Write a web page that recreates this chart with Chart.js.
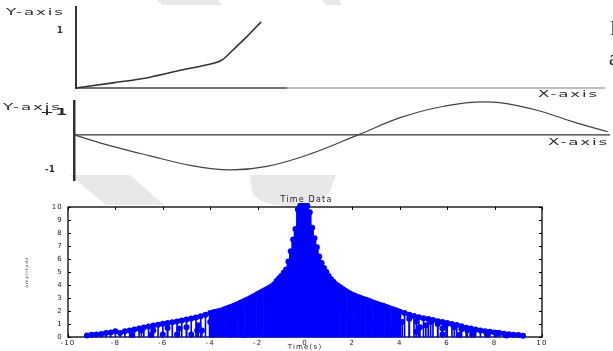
<!DOCTYPE html>
<html>
<head>
<meta charset="utf-8">
<script src="https://cdn.jsdelivr.net/npm/chart.js@4.4.1/dist/chart.umd.min.js"></script>
<style>
html, body { margin: 0; padding: 0; background: #fff; }
body { width: 613px; height: 351px; position: relative; overflow: hidden; font-family: "DejaVu Sans", sans-serif; }
canvas, svg { position: absolute; left: 0; }
.lbl { position: absolute; font-size: 9px; color: #2a2a2a; letter-spacing: 1px; transform-origin: 0 50%; transform: scaleX(1.85); line-height: 10px; white-space: nowrap; }
.doc { position: absolute; font-family: "Liberation Serif", serif; font-size: 20px; line-height: 20px; color: #222; }
</style>
</head>
<body>
<svg width="613" height="351" style="top:0">
  <g fill="#e8e8e8">
    <polygon points="157,0 218,0 222,5 162,5"/>
    <polygon points="322,0 339,0 342,5 326,5"/>
    <polygon points="70,175 130,175 164,205 106,205"/>
    <path d="M250,175 L336,175 L330,192 Q318,206 290,206 Q258,205 252,192 Z"/>
  </g>
</svg>
<canvas id="topChart" width="613" height="95" style="top:0"></canvas>
<canvas id="midChart" width="613" height="90" style="top:95px"></canvas>
<canvas id="stemChart" width="613" height="161" style="top:190px"></canvas>

<span class="lbl" style="left:6px; top:7px">Y-axis</span>
<span class="lbl" style="left:538px; top:89px">X-axis</span>
<span class="lbl" style="left:3px; top:102px">Y-axis</span>
<span class="lbl" style="left:40px; top:107px; font-weight:bold">+1</span>
<span class="lbl" style="left:548px; top:137px">X-axis</span>
<span class="doc" style="left:610px; top:18px">I</span>
<span class="doc" style="left:609px; top:48px">a</span>

<script>
// ---- top sketch (rising curve) ----
var topX = [0, 0.7, 1.40, 2.02, 2.44, 2.76, 2.97, 3.23, 3.50];
var topY = [0, 0.09, 0.19, 0.32, 0.40, 0.49, 0.67, 0.90, 1.16];
var topAxisX = [0, 4.0, 10];
var topTicks = [1];

// ---- middle sketch (sine-like wave) ----
var sineX = [0, 0.7, 1.42, 2.2, 2.91, 3.6, 4.4, 5.3, 6.1, 6.9, 7.8, 8.6, 9.3, 9.96];
var sineY = [0, -0.32, -0.60, -0.88, -1.0, -0.90, -0.55, 0, 0.50, 0.82, 0.94, 0.72, 0.38, 0.09];
var midAxisX = [0, 10];
var midTicks = [-1];

// ---- bottom stem plot: Time Data ----
var coreTime = [-1.2, -1.1, -1.0, -0.9, -0.8, -0.7, -0.6, -0.5, -0.4, -0.3, -0.2, -0.1, 0,
                0.1, 0.2, 0.3, 0.4, 0.5, 0.6, 0.7, 0.8, 0.9, 1.0, 1.1, 1.2];
var coreAmp = [4.3, 4.5, 4.7, 4.95, 5.2, 5.8, 6.6, 7.5, 8.3, 9.8, 10.1, 10.1, 10.1,
               10.1, 9.6, 8.4, 7.6, 6.9, 6.2, 5.7, 5.3, 5.0, 4.7, 4.45, 4.25];

var midTime = [-4.0, -3.9, -3.8, -3.7, -3.6, -3.5, -3.4, -3.3, -3.2, -3.1, -3.0, -2.9, -2.8, -2.7,
               -2.6, -2.5, -2.4, -2.3, -2.2, -2.1, -2.0, -1.9, -1.8, -1.7, -1.6, -1.5, -1.4, -1.3,
               1.3, 1.4, 1.5, 1.6, 1.7, 1.8, 1.9, 2.0, 2.1, 2.2, 2.3, 2.4, 2.5, 2.6,
               2.7, 2.8, 2.9, 3.0, 3.1, 3.2, 3.3, 3.4, 3.5, 3.6, 3.7, 3.8, 3.9, 4.0];
var midAmp = [1.85, 1.88, 1.92, 1.96, 2.0, 2.06, 2.13, 2.2, 2.26, 2.33, 2.4, 2.48, 2.56, 2.65,
              2.73, 2.82, 2.9, 3.0, 3.1, 3.2, 3.3, 3.4, 3.5, 3.6, 3.7, 3.8, 3.9, 4.05,
              4.05, 3.92, 3.8, 3.68, 3.56, 3.45, 3.35, 3.25, 3.17, 3.1, 3.03, 2.97, 2.9, 2.85,
              2.78, 2.7, 2.63, 2.57, 2.5, 2.45, 2.4, 2.33, 2.27, 2.2, 2.13, 2.07, 2.0, 1.95];

var outerTime = [-9.2, -9.0, -8.8, -8.6, -8.4, -8.2, -8.0, -7.8, -7.6, -7.4, -7.2, -7.0, -6.8,
                 -6.6, -6.4, -6.2, -6.0, -5.8, -5.6, -5.4, -5.2, -5.0, -4.8, -4.6, -4.4, -4.2,
                 4.2, 4.4, 4.6, 4.8, 5.0, 5.2, 5.4, 5.6, 5.8, 6.0, 6.2, 6.4, 6.6,
                 6.8, 7.0, 7.2, 7.4, 7.6, 7.8, 8.0, 8.2, 8.4, 8.6, 8.8, 9.0, 9.2];
var outerAmp = [0.12, 0.18, 0.2, 0.24, 0.3, 0.35, 0.45, 0.3, 0.45, 0.5, 0.58, 0.66, 0.74,
                0.8, 0.88, 0.95, 1.02, 1.08, 1.14, 1.2, 1.27, 1.34, 1.42, 1.5, 1.6, 1.72,
                1.85, 1.72, 1.62, 1.52, 1.45, 1.38, 1.3, 1.22, 1.15, 1.08, 1.0, 0.92, 0.82,
                0.72, 0.65, 0.58, 0.5, 0.45, 0.4, 0.35, 0.3, 0.25, 0.22, 0.18, 0.15, 0.1];

var lowTime = [-7.3, -6.9, -6.5, -6.4, -6.0, -5.8, -5.4, -5.3, -5.0, -4.8, -4.55, -4.5, -4.35,
               -4.0, -3.9, -3.8, -3.6, -3.3, -3.15, -3.15, -2.9, -2.7, -2.6, -2.4, -2.2, -2.0,
               -1.9, -1.6, -1.5, -1.2,
               1.4, 1.8, 2.2, 2.7, 2.75, 2.95, 3.0, 3.45, 3.6, 3.6, 4.1, 4.4, 4.7, 4.7, 4.85,
               5.1, 5.3, 5.6, 5.8, 5.8, 5.95, 6.3, 6.5, 6.6, 6.85, 7.05, 7.1, 7.7, 8.1, 8.5];
var lowAmp = [0.15, 0.5, 0.15, 0.5, 0.2, 0.7, 0.2, 0.65, 0.75, 0.2, 0.5, 0.9, 0.5,
              1.15, 0.2, 1.45, 0.75, 0.5, 1.3, 0.2, 1.6, 0.9, 0.15, 2.0, 1.4, 0.6,
              2.1, 1.5, 3.0, 2.6,
              2.5, 1.6, 1.8, 2.0, 0.75, 1.15, 0.25, 1.5, 0.75, 0.4, 1.15, 1.4, 1.2, 0.4, 0.75,
              0.9, 1.15, 1.0, 0.65, 0.2, 0.95, 0.75, 0.15, 0.6, 0.5, 0.15, 0.42, 0.2, 0.3, 0.12];

var xTicksStep = 2;
var yTicksStep = 1;

Chart.defaults.font.family = 'DejaVu Sans';
Chart.defaults.animation = false;

function pts(xs, ys) {
    return xs.map(function (x, i) { return { x: x, y: ys[i] }; });
}

// fixed axis box, no extra label padding above/below the plot
function fixWidth(w) {
    return function (s) { s.width = w; s.paddingTop = 0; s.paddingBottom = 0; };
}

var sketchLabel = { padding: 0, color: '#333', font: { family: 'DejaVu Sans', size: 9, weight: 'bold' } };

// top sketch
new Chart(document.getElementById('topChart'), {
    type: 'line',
    data: {
        datasets: [{
            data: pts(topX, topY),
            borderColor: '#333', borderWidth: 1.6, pointRadius: 0,
            cubicInterpolationMode: 'monotone', clip: false
        }, {
            data: pts(topAxisX, topAxisX.map(function () { return 0; })),
            borderWidth: 1.5, pointRadius: 0, clip: false,
            segment: { borderColor: function (c) { return c.p0.parsed.x < 4 ? '#444' : '#aaa'; } }
        }]
    },
    options: {
        responsive: false,
        layout: { padding: { top: 7, right: 8, bottom: 7, left: 0 } },
        plugins: { legend: { display: false }, tooltip: { enabled: false } },
        scales: {
            x: { type: 'linear', display: false, min: 0, max: 10 },
            y: {
                min: 0, max: 1.42,
                grid: { display: false, drawTicks: false },
                border: { display: true, color: '#333', width: 2 },
                afterBuildTicks: function (s) { s.ticks = topTicks.map(function (v) { return { value: v }; }); },
                afterFit: fixWidth(76),
                ticks: Object.assign({}, sketchLabel, { padding: 13 })
            }
        }
    }
});

// middle sketch
new Chart(document.getElementById('midChart'), {
    type: 'line',
    data: {
        datasets: [{
            data: pts(sineX, sineY),
            borderColor: '#444', borderWidth: 1.2, pointRadius: 0,
            tension: 0.4, clip: false
        }, {
            data: pts(midAxisX, midAxisX.map(function () { return 0; })),
            borderColor: '#333', borderWidth: 1.2, pointRadius: 0, clip: false
        }]
    },
    options: {
        responsive: false,
        layout: { padding: { top: 6, right: 3, bottom: 5, left: 0 } },
        plugins: { legend: { display: false }, tooltip: { enabled: false } },
        scales: {
            x: { type: 'linear', display: false, min: 0, max: 10 },
            y: {
                min: -1.29, max: 0.97,
                grid: { display: false, drawTicks: false },
                border: { display: true, color: '#333', width: 2.5 },
                afterBuildTicks: function (s) { s.ticks = midTicks.map(function (v) { return { value: v }; }); },
                afterFit: fixWidth(74),
                ticks: Object.assign({}, sketchLabel, { padding: 19 })
            }
        }
    }
});

// frame + inward tick marks for the stem plot
var framePlugin = {
    id: 'frame',
    beforeDraw: function (chart) { chart.ctx.letterSpacing = '1.2px'; },
    beforeDatasetsDraw: function (chart) {
        var ctx = chart.ctx, a = chart.chartArea, x = chart.scales.x, y = chart.scales.y;
        ctx.save();
        ctx.strokeStyle = '#000';
        ctx.lineWidth = 1.3;
        ctx.strokeRect(a.left, a.top, a.right - a.left, a.bottom - a.top);
        ctx.lineWidth = 1;
        ctx.beginPath();
        x.ticks.forEach(function (t) {
            var p = Math.round(x.getPixelForValue(t.value)) + 0.5;
            ctx.moveTo(p, a.bottom); ctx.lineTo(p, a.bottom - 3);
            ctx.moveTo(p, a.top); ctx.lineTo(p, a.top + 3);
        });
        y.ticks.forEach(function (t) {
            var p = Math.round(y.getPixelForValue(t.value)) + 0.5;
            ctx.moveTo(a.left, p); ctx.lineTo(a.left + 3, p);
            ctx.moveTo(a.right, p); ctx.lineTo(a.right - 3, p);
        });
        ctx.stroke();
        ctx.restore();
    }
};

function stems(xs, ys, w) {
    return {
        type: 'bar', data: pts(xs, ys), backgroundColor: '#0000ff',
        barThickness: w, grouped: false, borderWidth: 0, clip: 4
    };
}

new Chart(document.getElementById('stemChart'), {
    type: 'bar',
    data: {
        datasets: [
            stems(coreTime, coreAmp, 3),
            stems(midTime, midAmp, 2.3),
            stems(outerTime, outerAmp, 1),
            stems(lowTime, lowAmp, 1),
            {
                type: 'line', showLine: false, clip: 4,
                data: pts(coreTime.concat(midTime, outerTime, lowTime), coreAmp.concat(midAmp, outerAmp, lowAmp)),
                pointRadius: 3, pointBackgroundColor: '#0000ff', pointBorderWidth: 0
            }
        ]
    },
    options: {
        responsive: false,
        layout: { padding: 0 },
        plugins: {
            legend: { display: false },
            tooltip: { enabled: false },
            title: {
                display: true, text: 'Time Data', color: '#222',
                font: { size: 8, weight: 'normal' }, padding: { top: 5.5, bottom: 1.9 }
            }
        },
        scales: {
            x: {
                type: 'linear', min: -10, max: 10, offset: false,
                grid: { display: false, drawTicks: false, offset: false }, border: { display: false },
                ticks: { stepSize: xTicksStep, color: '#222', font: { size: 7 }, padding: 2, maxRotation: 0 },
                title: { display: true, text: 'Time(s)', color: '#222', font: { size: 7 }, padding: { top: 0, bottom: 0 } },
                afterFit: function (s) { s.height = 14; }
            },
            y: {
                min: 0, max: 10,
                grid: { display: false, drawTicks: false }, border: { display: false },
                ticks: { stepSize: yTicksStep, color: '#222', font: { size: 7 }, padding: 5 },
                title: { display: true, text: 'Amplitude', color: '#333', font: { size: 4 }, padding: { top: 25, bottom: 0 } },
                afterFit: fixWidth(68)
            },
            // empty right-hand box so the plot ends at the same place as the picture
            yRight: {
                position: 'right', min: 0, max: 1,
                grid: { display: false, drawTicks: false }, border: { display: false },
                ticks: { display: false },
                afterFit: fixWidth(71)
            }
        }
    },
    plugins: [framePlugin]
});
</script>
</body>
</html>
